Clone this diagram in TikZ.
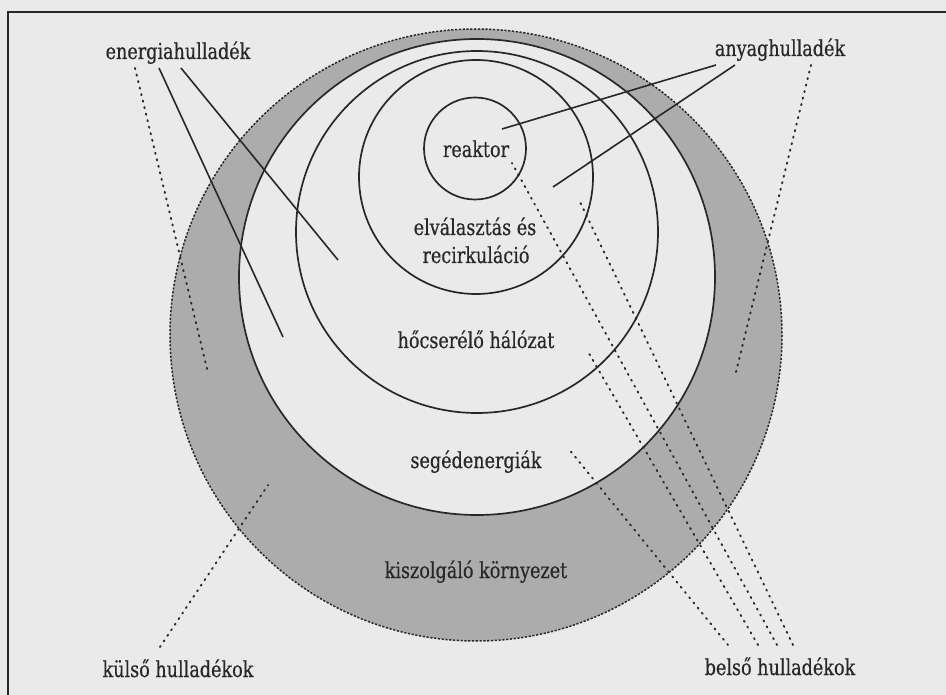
\documentclass[tikz,border=0pt]{standalone}
\usepackage{fontspec}
\setmainfont[FakeStretch=0.8,FakeBold=0.5]{DejaVu Serif}
\definecolor{paper}{RGB}{234,234,234}
\definecolor{ink}{RGB}{40,40,40}
\definecolor{shell}{RGB}{172,172,172}
\begin{document}
\begin{tikzpicture}[x=1pt,y=-1pt,
  lbl/.style={font=\fontsize{22}{24}\selectfont, text=ink, inner sep=0pt, anchor=base},
  orbit/.style={circle, draw=ink, line width=1.7pt, inner sep=0pt},
  feed/.style={draw=ink, line width=1.6pt},
  dotline/.style={draw=ink, line width=1.9pt, dash pattern=on 1.2pt off 5.5pt, line cap=round},
  rim/.style={draw=ink, line width=1.5pt, dash pattern=on 2.2pt off 1.6pt}]
\useasboundingbox (0,0) rectangle (946,695);
\fill[paper] (0,0) rectangle (946,695);

% frame, running off the page on the right and at the bottom
\begin{scope}
  \clip (0,0) rectangle (946,695);
  \draw[ink, line width=2.4pt] (8,12) rectangle (990,740);
\end{scope}

% shaded service shell between the outer rim and the auxiliary circle
\fill[shell, even odd rule] (476,335) circle[radius=306] (477,277) circle[radius=238];

% nested system circles
\node[orbit, minimum size=612pt, draw=none] (outer) at (476,335) {};
\draw[rim] (476,335) circle[radius=306];
\node[orbit, minimum size=476pt] (aux) at (477,277) {};
\node[orbit, minimum size=362pt] (hex) at (477,232) {};
\node[orbit, minimum size=234pt] (sep) at (476,177) {};
\node[orbit, minimum size=102pt] (core) at (475,148.5) {};

% labels
\node[lbl] (ewaste) at (178,59) {energiahulladék};
\node[lbl] (mwaste) at (780,56) {anyaghulladék};
\node[lbl] (reactor) at (476,157) {reaktor};
\node[lbl] (sepa) at (475,235) {elválasztás és};
\node[lbl] (sepb) at (476,263) {recirkuláció};
\node[lbl] (hexl) at (476,348) {hőcserélő hálózat};
\node[lbl] (auxl) at (476,468) {segédenergiák};
\node[lbl] (envl) at (476,578) {kiszolgáló környezet};
\node[lbl] (extl) at (178,677) {külső hulladékok};
\node[lbl] (intl) at (780,675) {belső hulladékok};

% end points of the waste streams
\coordinate (e0) at (135,68);  \coordinate (e0x) at (208,373);
\coordinate (e1) at (159,68);  \coordinate (e1x) at (283,337);
\coordinate (e2) at (181,68);  \coordinate (e2x) at (338,260);
\coordinate (m1) at (716,65);  \coordinate (m1x) at (502,129);
\coordinate (m2) at (735,65);  \coordinate (m2x) at (553,187);
\coordinate (m0) at (811,65);  \coordinate (m0x) at (736,372);
\coordinate (x0) at (160,647); \coordinate (x0x) at (268,485);
\coordinate (i1) at (777,645); \coordinate (i1x) at (512,163);
\coordinate (i2) at (793,645); \coordinate (i2x) at (580,202);
\coordinate (i3) at (758,645); \coordinate (i3x) at (587,350);
\coordinate (i4) at (728,645); \coordinate (i4x) at (568,448);

% energy waste
\draw[dotline] (e0) -- (e0x);
\draw[feed] (e1) -- (e1x);
\draw[feed] (e2) -- (e2x);
% material waste
\draw[feed] (m1) -- (m1x);
\draw[feed] (m2) -- (m2x);
\draw[dotline] (m0) -- (m0x);
% external waste
\draw[dotline] (x0) -- (x0x);
% internal waste
\draw[dotline] (i1) -- (i1x);
\draw[dotline] (i2) -- (i2x);
\draw[dotline] (i3) -- (i3x);
\draw[dotline] (i4) -- (i4x);
\end{tikzpicture}
\end{document}
